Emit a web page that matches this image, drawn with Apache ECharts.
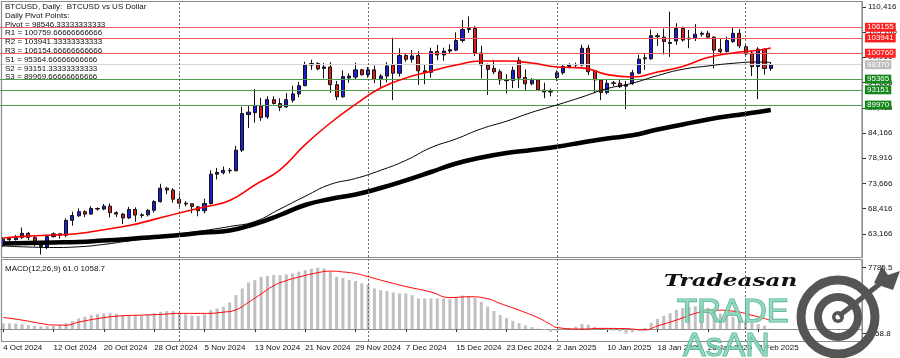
<!DOCTYPE html>
<html><head><meta charset="utf-8">
<script src="https://cdn.jsdelivr.net/npm/echarts@6/dist/echarts.min.js"></script>
<style>html,body{margin:0;padding:0;background:#fff}#c{width:900px;height:358px}</style>
</head><body><div id="c"></div>
<script>
// ---------- DATA ----------
const dates = [
'4 Oct 2024','5 Oct 2024','6 Oct 2024','7 Oct 2024','8 Oct 2024','9 Oct 2024','10 Oct 2024','11 Oct 2024','12 Oct 2024','13 Oct 2024',
'14 Oct 2024','15 Oct 2024','16 Oct 2024','17 Oct 2024','18 Oct 2024','19 Oct 2024','20 Oct 2024','21 Oct 2024','22 Oct 2024','23 Oct 2024',
'24 Oct 2024','25 Oct 2024','26 Oct 2024','27 Oct 2024','28 Oct 2024','29 Oct 2024','30 Oct 2024','31 Oct 2024',
'1 Nov 2024','2 Nov 2024','3 Nov 2024','4 Nov 2024','5 Nov 2024','6 Nov 2024','7 Nov 2024','8 Nov 2024','9 Nov 2024','10 Nov 2024',
'11 Nov 2024','12 Nov 2024','13 Nov 2024','14 Nov 2024','15 Nov 2024','16 Nov 2024','17 Nov 2024','18 Nov 2024','19 Nov 2024','20 Nov 2024',
'21 Nov 2024','22 Nov 2024','23 Nov 2024','24 Nov 2024','25 Nov 2024','26 Nov 2024','27 Nov 2024','28 Nov 2024','29 Nov 2024','30 Nov 2024',
'1 Dec 2024','2 Dec 2024','3 Dec 2024','4 Dec 2024','5 Dec 2024','6 Dec 2024','7 Dec 2024','8 Dec 2024','9 Dec 2024','10 Dec 2024',
'11 Dec 2024','12 Dec 2024','13 Dec 2024','14 Dec 2024','15 Dec 2024','16 Dec 2024','17 Dec 2024','18 Dec 2024','19 Dec 2024','20 Dec 2024',
'21 Dec 2024','22 Dec 2024','23 Dec 2024','24 Dec 2024','26 Dec 2024','27 Dec 2024','28 Dec 2024','29 Dec 2024','30 Dec 2024','31 Dec 2024',
'2 Jan 2025','3 Jan 2025','4 Jan 2025','5 Jan 2025','6 Jan 2025','7 Jan 2025','8 Jan 2025','9 Jan 2025','10 Jan 2025','11 Jan 2025',
'12 Jan 2025','13 Jan 2025','14 Jan 2025','15 Jan 2025','16 Jan 2025','17 Jan 2025','18 Jan 2025','19 Jan 2025','20 Jan 2025','21 Jan 2025',
'22 Jan 2025','23 Jan 2025','24 Jan 2025','25 Jan 2025','26 Jan 2025','27 Jan 2025','28 Jan 2025','29 Jan 2025','30 Jan 2025','31 Jan 2025',
'1 Feb 2025','2 Feb 2025','3 Feb 2025','4 Feb 2025','5 Feb 2025'];

// [open, high, low, close]
const candles = [
[60750,62480,60460,62080],[62250,62500,61700,61980],[61980,62950,61800,62500],[62450,64500,62100,63300],[63300,63600,61900,62450],
[62400,62700,60600,61400],[60800,61300,58900,60550],[60450,63000,60000,62600],[62600,63500,62450,63200],[63200,63300,62200,62900],
[62900,66400,62500,66000],[66000,67800,64900,67000],[66950,68500,66700,67800],[67800,68100,66700,67300],[67300,68950,67150,68450],
[68450,68700,68000,68350],[68350,69400,68100,68950],[68950,69500,66600,67600],[67600,67900,66700,67300],[67300,67500,65200,66500],
[66500,68800,66300,68250],[68250,68700,65700,67100],[67000,67500,66500,67150],[67150,68300,66800,68100],[68100,70200,67600,69900],
[69900,73600,69700,72700],[72700,72950,71450,72300],[72300,72700,69700,70400],
[70400,71600,68800,69550],[69550,69950,68900,69400],[69450,69500,67500,68900],[68800,69000,66850,68000],[68000,70500,67450,69500],
[69500,76400,69300,75600],[75600,76900,74500,75950],[75900,77200,75550,76400],[76400,76900,75750,76300],[76300,81500,76200,80600],
[80600,89600,80200,88200],[88000,89900,85200,88500],[88400,93300,86300,89900],[89800,91500,86700,87400],[87500,91800,87100,91100],
[91100,91800,90100,90300],[90300,91400,88700,89500],[89600,92500,89400,91100],[91000,94000,90500,92300],[92300,94800,91600,94000],
[94000,99000,93900,98300],[98300,99400,97300,98600],[98600,98900,97200,97500],[97600,98700,95500,97900],[97900,98900,92500,94200],
[94200,95000,91000,91700],[91700,97200,91500,95900],[95600,96600,94600,96000],[95800,98800,95300,97300],[97300,97500,96100,96300],
[96300,97900,95700,97300],[97300,98200,94500,95300],[95300,96400,93600,96000],[96000,98900,94700,98100],[98300,104000,91000,96600],
[96600,101800,95900,100300],[100300,100600,99000,99500],[99500,101400,98800,100200],[100300,101200,94200,97100],[97100,98300,94300,96800],
[96800,101900,95700,101100],[101100,102500,99300,100400],[100400,101900,99200,101200],[101200,102600,100600,101500],[101400,105100,101200,103400],
[103400,107700,103000,105700],[105700,108400,105000,105900],[105900,106400,100200,100800],[100800,102300,95500,98300],[98300,98600,92100,97400],
[97600,99400,96400,96900],[96900,97400,94200,95200],[95200,96400,92400,95050],[95100,98000,93500,97200],[99300,100000,93500,95600],
[95700,97400,93100,94400],[94400,95600,94100,95300],[95200,95400,92900,93100],[93100,94600,91400,92700],[92700,93400,91800,92800],
[95700,97200,95000,96700],[96700,98500,96300,98000],[98000,98700,97600,98300],[98300,98800,97900,98400],[98300,102500,98000,101800],
[101800,102500,96200,96900],[97100,97300,92400,95200],[95200,95400,91000,92600],[92600,95300,92200,94500],[94500,95000,93900,94600],
[94500,95200,93500,93800],[93900,95000,89100,94200],[94400,97300,94200,96700],[96600,100400,96400,99500],[99600,100800,97300,99800],
[99600,105700,99400,104400],[104400,104900,102300,104200],[104100,105900,100500,103200],[103000,109400,100000,102800],[103300,107000,102500,105900],
[105900,106300,103200,103500],[103700,105600,101800,103900],[103900,106800,103300,104700],[104700,105300,104200,104900],[104900,105400,103900,104100],
[104100,104300,97600,101400],[101600,103700,100400,101100],[101100,104200,100900,103400],[103200,106100,102900,104900],[104900,105800,101800,102300],
[102100,102600,100300,100600],[100800,101300,96000,98000],[98000,102000,91200,101600],[101600,101730,96330,97580],[97580,98900,97100,98370]];

// moving averages at these bar indices
const maIdx  = [0,4,8,12,16,20,24,28,32,36,40,44,48,52,56,60,64,68,72,76,80,84,88,92,96,100,104,108,112,116,120,122];
const maRed  = [62326,62710,62950,63262,64052,64926,66195,67526,68774,70126,73350,76512,81753,86246,90136,93526,95606,97020,98310,99142,99142,98726,97894,97706,96313,95814,96854,98000,99850,100806,101368,101846];
const maThin = [60662,60454,60350,60496,60995,61702,62326,63158,63886,64718,65758,68358,71000,73475,74702,76408,78467,81129,82939,85040,86620,88451,89990,91654,93401,94524,96105,97416,98102,98664,98934,98830];
const maThick= [61182,61286,61390,61494,61806,62118,62534,62950,63470,63886,65238,67110,69190,70438,71374,72726,74328,76054,77822,79070,80006,80630,81316,82190,83022,83688,84894,85934,86974,87806,88534,88950];

// MACD main (histogram), one per bar
const macdHist = [
720,720,700,634,507,422,338,380,422,507,720,1014,1352,1564,1775,1902,1987,1987,1944,1775,
1775,1775,1690,1775,2029,2198,2282,2282,1987,1860,1690,1648,1860,2409,2620,2832,3382,4311,5157,5918,
6213,6636,6763,6847,6847,6932,7058,7270,7481,7650,7785.5,7700,7270,6636,6509,6213,6086,5791,5664,5157,
4946,4819,4650,4523,4523,4311,3889,3889,3889,3889,3889,3804,4100,4250,4200,3950,3450,2850,2300,1800,
1400,1050,750,450,250,50,-150,-350,-250,-50,150,300,650,550,300,50,-100,-200,-300,-558.8,
-400,-200,150,800,1300,1700,2000,2450,2650,2800,2900,2850,2700,2300,1950,1700,1550,1300,1050,800,
650,420,61.0];
// MACD signal read at these bar indices
const sigIdx  = [0,3,6,8,10,12,16,19,22,25,28,32,35,37,39,41,43,45,47,50,52,54,56,58,61,64,68,71,74,77,79,82,85,87,88,92,95,99,102,104,107,110,113,116,119,121,122];
const sigVals = [1480,1140,720,520,500,880,1450,1690,1775,1860,1990,1990,2150,2450,3400,4450,5500,6150,6600,7150,7350,7250,7050,6650,6000,5400,4700,4000,4100,3850,3250,2400,1450,600,200,0,90,50,-100,400,1140,1990,2400,2280,1750,1350,1058.7];

const pivotLevel = 98546.33;
const resistLevels = [100759.67, 103941.33, 106154.67];
const supportLevels = [95364.67, 93151.33, 89969.67];
const bidPrice = 98370;
const infoLines = ['BTCUSD, Daily:  BTCUSD vs US Dollar','Daily Pivot Points:','Pivot = 98546.33333333333',
  'R1 = 100759.66666666666','R2 = 103941.33333333333','R3 = 106154.66666666666',
  'S1 = 95364.66666666666','S2 = 93151.33333333333','S3 = 89969.66666666666'];
const priceTicks = [63166,68416,73666,78916,84166,89416,94666,99916,105166,110416];
const macdTicks = [7785.5,-558.8];
const monthStarts = ['1 Nov 2024','1 Dec 2024','2 Jan 2025','1 Feb 2025'];
const macdName = 'MACD(12,26,9)';

// ---------- BUILD ----------
const FONT = '"Liberation Sans", Arial, sans-serif';
const N = 137;
const cats = dates.slice();
for (let k = 0; cats.length < N; k++) cats.push('~' + k);
const nB = dates.length;
function sparse(idx, vals){ const a = new Array(nB).fill(null); idx.forEach((i,k)=>{a[i]=vals[k];}); return a; }
const candleData = candles.map(c => [c[0], c[3], c[2], c[1]]);

function lvl(v, color, bg){
  return {yAxis: v, lineStyle:{color: color, width:1, type:'solid'},
    label: bg ? {show:true, position:'end', formatter: String(Math.round(v)), backgroundColor: bg, color:'#fff',
      fontSize:8, fontFamily:FONT, padding:[1,2,0,2], distance:3} : {show:false}};
}
const levelData = [lvl(pivotLevel,'#cfcfcf',null)]
  .concat(resistLevels.map(v=>lvl(v,'#ee5a5a','#ff1f1f')))
  .concat(supportLevels.map(v=>lvl(v,'#4e9e4e','#14871a')))
  .concat([lvl(bidPrice,'#d6d6d6','#bdbdbd')]);

const sepLine = {silent:true, symbol:'none', animation:false, label:{show:false},
  lineStyle:{color:'#6a6a6a', type:[2,2], width:1}, data: monthStarts.map(d=>({xAxis:d}))};

const labelInterval = (i) => i % 8 === 0 && i < nB;

const graphics = [];
graphics.push({type:'rect', silent:true, z:50, shape:{x:1.5,y:1.5,width:860.5,height:256}, style:{fill:'none', stroke:'#8a8a8a', lineWidth:1.2}});
graphics.push({type:'rect', silent:true, z:50, shape:{x:1.5,y:259.5,width:860.5,height:82}, style:{fill:'none', stroke:'#8a8a8a', lineWidth:1.2}});
infoLines.forEach((t,k)=>graphics.push({type:'text', silent:true, z:60, x:5, y:6.7+8.8*k,
  style:{text:t, font:'8px '+FONT, fill:'#111', verticalAlign:'middle'}}));
graphics.push({type:'text', silent:true, z:60, x:5, y:269,
  style:{text: macdName+' '+macdHist[nB-1].toFixed(1)+' '+sigVals[sigVals.length-1].toFixed(1), font:'8px '+FONT, fill:'#111', verticalAlign:'middle'}});
// watermark logo
graphics.push({type:'text', silent:true, z:70, x:664, y:282, scaleX:1.36,
  style:{text:'Tradeasan', font:'italic bold 17px "DejaVu Serif", serif', fill:'#111', verticalAlign:'middle'}});
graphics.push({type:'text', silent:true, z:70, x:677, y:313,
  style:{text:'TRADE', font:'33px '+FONT, fill:'#86d3b0', stroke:'#33a58c', lineWidth:1.2, verticalAlign:'middle', opacity:0.85}});
graphics.push({type:'text', silent:true, z:70, x:683, y:347,
  style:{text:'AsAN', font:'34px '+FONT, fill:'#86d3b0', stroke:'#33a58c', lineWidth:1.2, verticalAlign:'middle', opacity:0.85}});
graphics.push({type:'circle', silent:true, z:70, shape:{cx:838,cy:317,r:37}, style:{fill:'none', stroke:'#555', lineWidth:9}});
graphics.push({type:'circle', silent:true, z:70, shape:{cx:838,cy:317,r:20}, style:{fill:'none', stroke:'#555', lineWidth:8}});
graphics.push({type:'circle', silent:true, z:70, shape:{cx:838,cy:317,r:6}, style:{fill:'#555'}});
graphics.push({type:'circle', silent:true, z:71, shape:{cx:838,cy:317,r:2.5}, style:{fill:'#fff'}});
graphics.push({type:'line', silent:true, z:72, shape:{x1:839,y1:316,x2:886,y2:279}, style:{stroke:'#555', lineWidth:5}});
graphics.push({type:'polygon', silent:true, z:72, shape:{points:[[874,283],[882,266],[888,275],[900,271],[893,290],[884,287]]}, style:{fill:'#555'}});

const option = {
  animation:false,
  backgroundColor:'#fff',
  textStyle:{fontFamily:FONT},
  grid:[
    {left:-1.6, right:38, top:2, height:255},
    {left:-1.6, right:38, top:260, height:81}
  ],
  xAxis:[
    {type:'category', gridIndex:0, data:cats, boundaryGap:true, axisLine:{show:false}, axisTick:{show:false}, axisLabel:{show:false}, splitLine:{show:false}},
    {type:'category', gridIndex:1, data:cats, boundaryGap:true,
      axisLine:{show:true, lineStyle:{color:'#8a8a8a'}},
      axisTick:{show:true, alignWithLabel:true, interval:labelInterval, length:3, lineStyle:{color:'#333'}},
      axisLabel:{show:true, interval:labelInterval, align:'left', fontSize:8, color:'#111', margin:3, fontFamily:FONT},
      splitLine:{show:false}}
  ],
  yAxis:[
    {type:'value', gridIndex:0, position:'right', min:58374, max:111414, scale:true,
      splitLine:{show:false}, axisLine:{show:true, lineStyle:{color:'#8a8a8a'}},
      axisTick:{show:true, customValues:priceTicks, length:4, lineStyle:{color:'#333'}},
      axisLabel:{customValues:priceTicks, color:'#111', fontSize:8, margin:6, fontFamily:FONT}},
    {type:'value', gridIndex:1, position:'right', min:-1510, max:8762,
      splitLine:{show:false}, axisLine:{show:true, lineStyle:{color:'#8a8a8a'}},
      axisTick:{show:true, customValues:macdTicks, length:4, lineStyle:{color:'#333'}},
      axisLabel:{customValues:macdTicks, color:'#111', fontSize:8, margin:6, fontFamily:FONT, formatter:(v)=>v.toFixed(1)}}
  ],
  series:[
    {type:'line', xAxisIndex:0, yAxisIndex:0, data:[], z:1, silent:true,
      markLine:{silent:true, symbol:'none', animation:false, data:levelData}},
    {type:'candlestick', xAxisIndex:0, yAxisIndex:0, data:candleData, barWidth:3.6, z:3,
      itemStyle:{color:'#1d1dd8', color0:'#e01b1b', borderColor:'#111', borderColor0:'#111', borderWidth:1},
      markLine:sepLine},
    {type:'line', xAxisIndex:0, yAxisIndex:0, data:sparse(maIdx, maThick), connectNulls:true, smooth:true, showSymbol:false, symbol:'none', z:4,
      lineStyle:{color:'#000', width:4.5}},
    {type:'line', xAxisIndex:0, yAxisIndex:0, data:sparse(maIdx, maThin), connectNulls:true, smooth:true, showSymbol:false, symbol:'none', z:5,
      lineStyle:{color:'#000', width:1}},
    {type:'line', xAxisIndex:0, yAxisIndex:0, data:sparse(maIdx, maRed), connectNulls:true, smooth:true, showSymbol:false, symbol:'none', z:6,
      lineStyle:{color:'#ff0000', width:1.6}},
    {type:'bar', xAxisIndex:1, yAxisIndex:1, data:macdHist, barWidth:3, itemStyle:{color:'#c0c0c0'}, z:3, markLine:sepLine},
    {type:'line', xAxisIndex:1, yAxisIndex:1, data:sparse(sigIdx, sigVals), connectNulls:true, smooth:true, showSymbol:false, symbol:'none', z:5,
      lineStyle:{color:'#ff0000', width:1}}
  ],
  graphic: graphics
};
const chart = echarts.init(document.getElementById('c'), null, {renderer:'canvas'});
chart.setOption(option);
</script>
</body></html>
